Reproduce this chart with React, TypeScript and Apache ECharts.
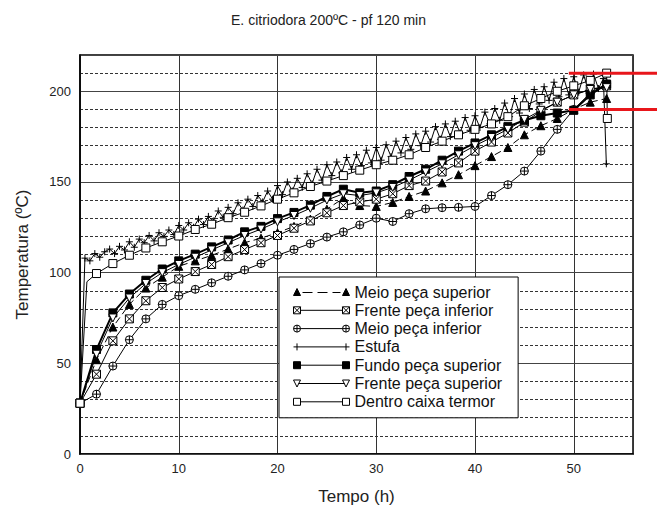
import React, { useEffect, useRef } from 'react';
import * as echarts from 'echarts';

const FONT = '"Liberation Sans", Arial, sans-serif';
const TITLE = 'E. citriodora 200ºC - pf 120 min';
const X_NAME = 'Tempo (h)';
const Y_NAME = 'Temperatura (ºC)';

const NAMES = [
  'Meio peça superior',
  'Frente peça inferior',
  'Meio peça inferior',
  'Estufa',
  'Fundo peça superior',
  'Frente peça superior',
  'Dentro caixa termor',
];

// sampling times (h) of the marked series
const TIMES = [0, 1.67, 3.33, 5, 6.67, 8.33, 10, 11.67, 13.33, 15, 16.67, 18.33, 20, 21.67, 23.33, 25, 26.67, 28.33, 30, 31.67, 33.33, 35, 36.67, 38.33, 40, 41.67, 43.33, 45, 46.67, 48.33, 50, 51.67, 53.33];

const MEIO_SUP = [28, 52, 70, 82.5, 91.5, 97.5, 103.5, 106.5, 109.5, 113, 116.5, 119, 122, 125.5, 129.5, 135, 141, 137, 136.5, 138.7, 142, 145, 149.5, 154, 159, 164, 169, 176, 181, 185, 190, 194, 196];
const FRENTE_INF = [28, 44, 62.4, 74.5, 84.5, 91.8, 96.5, 100.6, 104.5, 108.8, 112.7, 116.5, 120.5, 124.5, 128.5, 133, 137, 139, 140.5, 143.5, 148, 150.5, 155.5, 160.5, 167, 172, 177, 183, 189, 194, 198, 201, 203];
const MEIO_INF = [28, 33, 48.5, 63, 74.5, 82.5, 87.3, 90.8, 94.4, 98, 101.5, 105, 109.6, 112.8, 116, 119.6, 122.5, 126.3, 130, 128.2, 132.5, 135.2, 135.8, 136, 136.5, 142.5, 148.5, 156, 167, 179, 190, 199, 204];
const FUNDO_SUP = [28, 57.6, 77.8, 88.2, 95.8, 102, 106.5, 110.2, 114.2, 118, 122.5, 125.5, 129.8, 133.2, 137.2, 142, 146, 144, 145, 148.5, 153, 157, 162, 167, 171.5, 176, 180.5, 184, 186.5, 188, 189.5, 198, 204];
const FRENTE_SUP = [28, 55, 75, 86, 94, 100, 104.5, 108.5, 112.5, 116.5, 120.5, 124, 128, 131.5, 135.5, 140, 143.5, 142.5, 144, 147, 151, 155.5, 160, 165, 170, 174.5, 179, 184.5, 189.5, 194, 198, 201, 202];
const DENTRO = [28, 99.5, 105, 109.6, 113.6, 117, 120.2, 123.8, 126.7, 130.3, 133.3, 136.8, 140.5, 144, 147.5, 150.5, 153.5, 156.5, 159.5, 162, 165, 169, 172.5, 176, 179, 182, 186, 192, 196, 200, 203, 206, 210];
const DENTRO_RISE = [0.7, 95];
const DENTRO_END = [53.4, 185];

// oven (Estufa) readings every 0.5 h
const ESTUFA_STEP = 0.5;
const ESTUFA = [28, 108, 106.5, 110.5, 108.5, 111.5, 113, 110.5, 114.5, 112.5, 117, 114, 118.5, 116.5, 120.5, 117.5, 122, 120, 123.5, 121, 126, 123.5, 127.5, 125, 129.5, 126.5, 131, 128.5, 134, 130.5, 136, 132.5, 138.5, 134.5, 140.5, 136.5, 142.5, 139, 145, 140.5, 148, 143, 150, 145, 152, 147, 154.5, 149, 157, 151, 159.5, 153.5, 161, 155, 163.5, 157, 165, 159, 167.5, 160.5, 169, 162, 170.5, 164, 172.5, 166, 174.5, 168, 176.5, 170, 178, 172, 180.5, 173.5, 182, 175, 183.5, 177, 185.5, 178.5, 186.5, 180, 188.5, 182, 190.5, 184, 193.5, 186, 196, 188, 198.5, 190.5, 201, 193, 202.5, 195, 205, 197, 207, 198, 208, 199.5, 209, 200.5, 209.5, 201.5, 207];
const ESTUFA_DROP = [53.3, 160];

// red reference lines (ºC) and the time where they start
const RED_LEVELS = [210, 190];
const RED_START = 49.5;

const pair = (vals: number[]) => vals.map((v, i) => [TIMES[i], v]);

const SYM_TRI = 'triangle';
const SYM_BOXX = 'path://M0 0 L10 0 L10 10 L0 10 Z M0 0 L10 10 M10 0 L0 10';
const SYM_CPLUS = 'path://M0 5 A5 5 0 1 1 10 5 A5 5 0 1 1 0 5 Z M5 0 L5 10 M0 5 L10 5';
const SYM_PLUS = 'path://M5 0 L5 10 M0 5 L10 5';
const SYM_RECT = 'rect';
const SYM_DTRI = 'path://M0 0 L10 0 L5 9 Z';
const SYM_SQ = 'path://M0 0 L10 0 L10 10 L0 10 Z';

const ICONS = [
  'path://M0 7 L3.5 0 L7 7 Z M49 7 L52.5 0 L56 7 Z M9 4 L19 4 M24 4 L34 4 M39 4 L47 4',
  'path://M0 0 L7 0 L7 7 L0 7 Z M0 0 L7 7 M7 0 L0 7 M49 0 L56 0 L56 7 L49 7 Z M49 0 L56 7 M56 0 L49 7 M7 3.5 L49 3.5',
  'path://M0 3.5 A3.5 3.5 0 1 1 7 3.5 A3.5 3.5 0 1 1 0 3.5 Z M3.5 0 L3.5 7 M0 3.5 L7 3.5 M49 3.5 A3.5 3.5 0 1 1 56 3.5 A3.5 3.5 0 1 1 49 3.5 Z M52.5 0 L52.5 7 M49 3.5 L56 3.5 M7 3.5 L49 3.5',
  'path://M3.5 0 L3.5 7 M0 3.5 L56 3.5 M52.5 0 L52.5 7',
  'path://M0 0 L7 0 L7 7 L0 7 Z M49 0 L56 0 L56 7 L49 7 Z M7 3.5 L49 3.5',
  'path://M0 0 L7 0 L3.5 7 Z M49 0 L56 0 L52.5 7 Z M5 3.5 L51 3.5',
  'path://M0 0 L7 0 L7 7 L0 7 Z M49 0 L56 0 L56 7 L49 7 Z M7 3.5 L49 3.5',
];
const ICON_FILLS = ['#000', '#fff', '#fff', '#000', '#000', '#fff', '#fff'];

function lineSeries(name: string, data: any[], symbol: string, fill: string, opts: any = {}) {
  return {
    type: 'line',
    name,
    data,
    symbol,
    symbolSize: opts.size || 8,
    showAllSymbol: true,
    itemStyle: { color: fill, borderColor: '#000', borderWidth: 1 },
    lineStyle: { color: '#000', width: opts.width || 1, type: opts.dash || 'solid' },
    emphasis: { disabled: true },
    z: opts.z || 2,
  };
}

export default function App() {
  const ref = useRef<HTMLDivElement>(null);
  useEffect(() => {
    document.body.style.margin = '0';
    const chart = echarts.init(ref.current!, undefined, { renderer: 'svg' });
    const dentroData: any[] = pair(DENTRO);
    dentroData.splice(1, 0, { value: DENTRO_RISE, symbol: 'none' });
    dentroData.push(DENTRO_END);
    const estufaData: any[] = ESTUFA.map((v, i) => [i * ESTUFA_STEP, v]);
    estufaData.push(ESTUFA_DROP);

    const option: any = {
      animation: false,
      backgroundColor: '#fff',
      textStyle: { fontFamily: FONT },
      title: {
        text: TITLE,
        left: 'center',
        top: 8,
        textStyle: { fontFamily: FONT, fontSize: 14, fontWeight: 'normal', color: '#222' },
      },
      grid: { left: 80, right: 24, top: 55, bottom: 52.5, show: true, borderColor: '#000', borderWidth: 1.5, backgroundColor: 'transparent' },
      legend: {
        orient: 'vertical',
        left: 279,
        top: 277,
        itemWidth: 56,
        itemHeight: 7,
        itemGap: 2.3,
        padding: [7, 16, 8, 14],
        borderColor: '#000',
        borderWidth: 1,
        backgroundColor: '#fff',
        selectedMode: false,
        textStyle: { fontFamily: FONT, fontSize: 16, color: '#111', lineHeight: 16 },
        data: NAMES.map((n, i) => ({
          name: n,
          icon: ICONS[i],
          itemStyle: { color: ICON_FILLS[i], borderColor: '#000', borderWidth: 1 },
        })),
      },
      xAxis: {
        type: 'value',
        min: 0,
        max: 56,
        interval: 10,
        name: X_NAME,
        nameLocation: 'middle',
        nameGap: 34,
        nameTextStyle: { fontFamily: FONT, fontSize: 17, color: '#222' },
        axisLine: { show: true, lineStyle: { color: '#000', width: 1.5 } },
        axisTick: { show: false },
        axisLabel: { fontFamily: FONT, fontSize: 13, color: '#222', margin: 8, showMaxLabel: false },
        splitLine: { show: true, lineStyle: { color: '#333', width: 1 } },
      },
      yAxis: [
        {
          type: 'value',
          min: 0,
          max: 220,
          interval: 50,
          name: Y_NAME,
          nameLocation: 'middle',
          nameGap: 49,
          nameRotate: 90,
          nameTextStyle: { fontFamily: FONT, fontSize: 17, color: '#222' },
          axisLine: { show: true, lineStyle: { color: '#000', width: 1.5 } },
          axisTick: { show: false },
          axisLabel: { fontFamily: FONT, fontSize: 13, color: '#222', margin: 9, showMaxLabel: false },
          splitLine: { show: true, lineStyle: { color: '#444', width: 1 } },
          z: 1,
        },
        {
          type: 'value',
          min: 0,
          max: 220,
          interval: 10,
          position: 'left',
          axisLine: { show: false },
          axisTick: { show: false },
          axisLabel: { show: false },
          splitLine: { show: true, lineStyle: { color: '#333', width: 1, type: [3, 2] } },
          z: 0,
        },
      ],
      series: [
        lineSeries(NAMES[0], pair(MEIO_SUP), SYM_TRI, '#000', { dash: [7, 4] }),
        lineSeries(NAMES[1], pair(FRENTE_INF), SYM_BOXX, '#fff'),
        lineSeries(NAMES[2], pair(MEIO_INF), SYM_CPLUS, '#fff'),
        lineSeries(NAMES[3], estufaData, SYM_PLUS, '#000', { size: 7 }),
        lineSeries(NAMES[4], pair(FUNDO_SUP), SYM_RECT, '#000', { width: 2 }),
        lineSeries(NAMES[5], pair(FRENTE_SUP), SYM_DTRI, '#fff'),
        lineSeries(NAMES[6], dentroData, SYM_SQ, '#fff'),
      ],
    };
    chart.setOption(option);

    const x0 = chart.convertToPixel({ xAxisIndex: 0 }, RED_START) as number;
    const W = chart.getWidth();
    chart.setOption({
      graphic: RED_LEVELS.map((lvl) => {
        const y = chart.convertToPixel({ yAxisIndex: 0 }, lvl) as number;
        return {
          type: 'line',
          z: 100,
          shape: { x1: x0, y1: y, x2: W, y2: y },
          style: { stroke: '#e8161b', lineWidth: 3 },
        };
      }),
    });
    return () => chart.dispose();
  }, []);
  return <div ref={ref} style={{ width: 657, height: 510 }} />;
}
